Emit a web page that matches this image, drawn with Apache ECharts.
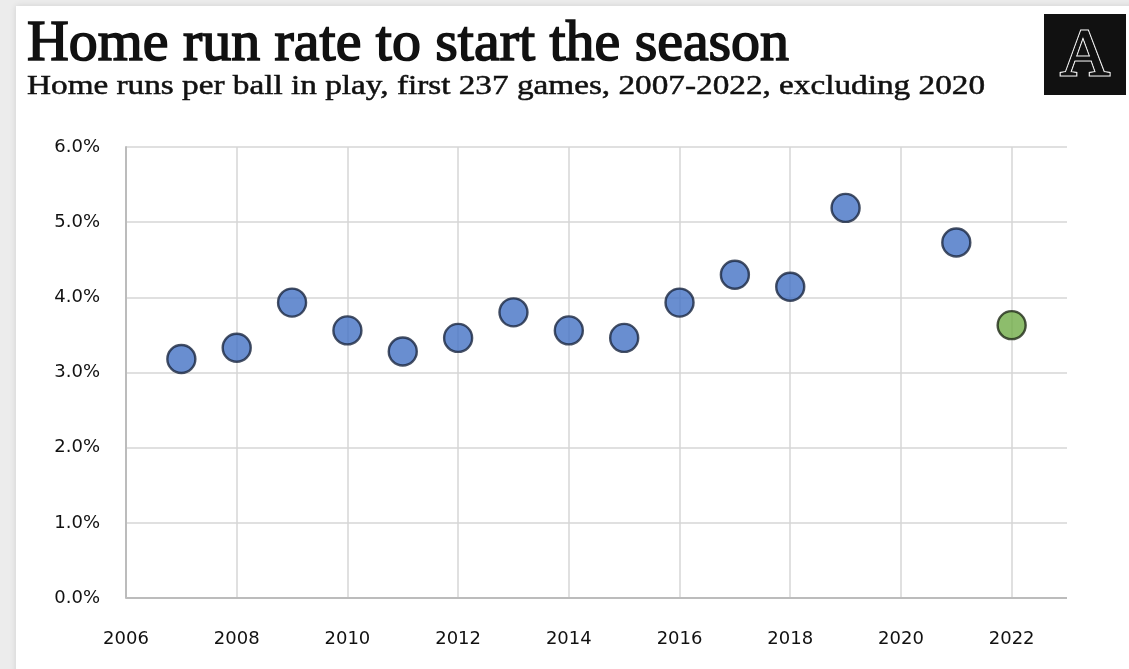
<!DOCTYPE html>
<html>
<head>
<meta charset="utf-8">
<title>Home run rate to start the season</title>
<script src="https://cdn.jsdelivr.net/npm/echarts@6/dist/echarts.min.js"></script>
<style>
  html, body { margin: 0; padding: 0; background: #ececec; }
  #chart { width: 1129px; height: 669px; }
</style>
</head>
<body>
<div id="chart"></div>
<script>
// Seasons shown (2020 is left out) and home runs per ball in play, in percent
const years = [2007, 2008, 2009, 2010, 2011, 2012, 2013, 2014, 2015, 2016, 2017, 2018, 2019, 2021, 2022];
const hrRates = [3.18, 3.33, 3.93, 3.56, 3.28, 3.46, 3.80, 3.56, 3.46, 3.93, 4.30, 4.14, 5.19, 4.73, 3.63];
const currentYear = 2022;

// Axis ranges
const xTicks = [2006, 2008, 2010, 2012, 2014, 2016, 2018, 2020, 2022];
const yTicks = [0, 1, 2, 3, 4, 5, 6];

const titleText = 'Home run rate to start the season';
const subtitleText = 'Home runs per ball in play, first 237 games, 2007-2022, excluding 2020';

const pastPoints = [];
const currentPoints = [];
years.forEach((y, i) => {
  (y === currentYear ? currentPoints : pastPoints).push([y, hrRates[i]]);
});

const chart = echarts.init(document.getElementById('chart'), null, { renderer: 'canvas' });

// Headline fonts are fitted to a fixed width by scaling horizontally
const titleFont = '57px "Liberation Serif", serif';
const subtitleFont = '28px "Liberation Serif", serif';
const titleW = echarts.format.getTextRect
  ? echarts.format.getTextRect(titleText, titleFont).width : 800;
const subW = echarts.format.getTextRect
  ? echarts.format.getTextRect(subtitleText, subtitleFont).width : 800;

chart.setOption({
  backgroundColor: 'transparent',
  animation: false,
  graphic: [
    {
      type: 'rect', z: -10, silent: true,
      shape: { x: 16, y: 6, width: 1140, height: 700 },
      style: { fill: '#ffffff', shadowBlur: 6, shadowColor: 'rgba(0,0,0,0.12)' }
    },
    {
      type: 'text', x: 27, y: 17, z: 10,
      scaleX: 762 / titleW,
      style: {
        text: titleText,
        font: titleFont,
        fill: '#111111', stroke: '#111111', lineWidth: 1.6
      }
    },
    {
      type: 'text', x: 27, y: 73, z: 10,
      scaleX: 958 / subW,
      style: {
        text: subtitleText,
        font: subtitleFont,
        fill: '#111111', stroke: '#111111', lineWidth: 0.5
      }
    },
    {
      type: 'group', x: 1044, y: 14, z: 10,
      children: [
        { type: 'rect', shape: { x: 0, y: 0, width: 82, height: 81 }, style: { fill: '#111111' } },
        {
          type: 'text', x: 41, y: 43,
          style: {
            text: 'A', font: '68px "Liberation Serif", serif',
            align: 'center', verticalAlign: 'middle',
            fill: '#111111', stroke: '#f2f2f2', lineWidth: 3
          }
        },
        {
          type: 'text', x: 41, y: 43,
          style: {
            text: 'A', font: '68px "Liberation Serif", serif',
            align: 'center', verticalAlign: 'middle',
            fill: '#111111', stroke: '#111111', lineWidth: 0.8
          }
        }
      ]
    }
  ],
  grid: { left: 126, right: 62, top: 147, bottom: 71 },
  xAxis: {
    type: 'value',
    min: 2006,
    max: 2023,
    interval: 2,
    axisLine: { show: false },
    axisTick: { show: false },
    axisLabel: {
      showMaxLabel: false,
      margin: 32,
      color: '#111111',
      fontFamily: '"DejaVu Sans", sans-serif',
      fontSize: 18,
      formatter: v => (xTicks.indexOf(v) >= 0 ? String(v) : '')
    },
    splitLine: { show: true, showMaxLine: false, lineStyle: { color: '#d6d6d6', width: 1.5 } }
  },
  yAxis: {
    type: 'value',
    min: yTicks[0],
    max: yTicks[yTicks.length - 1],
    interval: 1,
    axisLine: { show: true, lineStyle: { color: '#bcbcbc', width: 2 } },
    axisTick: { show: false },
    axisLabel: {
      margin: 26,
      color: '#111111',
      fontFamily: '"DejaVu Sans", sans-serif',
      fontSize: 18,
      formatter: v => v.toFixed(1) + '%'
    },
    splitLine: { show: true, lineStyle: { color: '#d6d6d6', width: 1.5 } }
  },
  series: [
    {
      name: 'Past seasons',
      type: 'scatter',
      data: pastPoints,
      symbol: 'circle',
      symbolSize: 28,
      itemStyle: { color: '#4472c4', borderColor: '#1a2740', borderWidth: 2.4 },
      markLine: {
        silent: true, symbol: 'none', label: { show: false },
        lineStyle: { color: '#bcbcbc', width: 2, type: 'solid' },
        data: [ [ { coord: [2006, 0] }, { coord: [2023, 0] } ] ]
      },
      z: 5
    },
    {
      name: String(currentYear),
      type: 'scatter',
      data: currentPoints,
      symbol: 'circle',
      symbolSize: 28,
      itemStyle: { color: '#70ad47', borderColor: '#1f2a16', borderWidth: 2.4 },
      z: 6
    }
  ]
});
</script>
</body>
</html>
